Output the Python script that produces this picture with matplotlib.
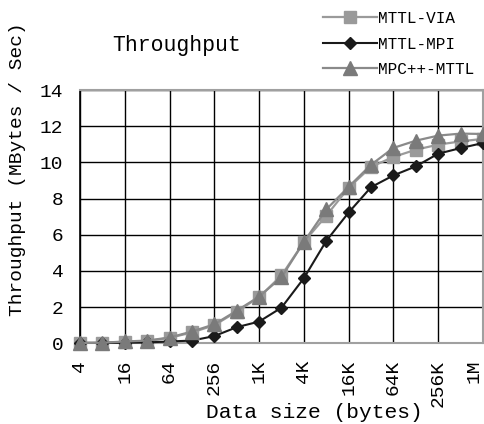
import matplotlib
matplotlib.use("Agg")
import matplotlib.pyplot as plt

plt.rcParams['font.family'] = ['Liberation Mono', 'DejaVu Sans Mono']

sizes = ['4', '8', '16', '32', '64', '128', '256', '512', '1K', '2K', '4K', '8K',
         '16K', '32K', '64K', '128K', '256K', '512K', '1M']
via = [0.02, 0.03, 0.08, 0.12, 0.3, 0.6, 1.0, 1.75, 2.55, 3.75, 5.6, 7.05,
       8.6, 9.75, 10.3, 10.7, 10.98, 11.16, 11.3]
mpi = [0.02, 0.02, 0.03, 0.05, 0.1, 0.15, 0.4, 0.89, 1.2, 1.97, 3.6, 5.66,
       7.23, 8.63, 9.28, 9.78, 10.48, 10.79, 11.07]
mpc = [0.02, 0.03, 0.1, 0.15, 0.32, 0.65, 1.05, 1.8, 2.58, 3.65, 5.6, 7.4,
       8.65, 9.87, 10.8, 11.2, 11.48, 11.59, 11.57]
yticks = [0, 2, 4, 6, 8, 10, 12, 14]

W, H = 485, 424
fig = plt.figure(figsize=(W / 100, H / 100), dpi=100)
ax = fig.add_axes([80 / W, 1 - 343.3 / H, (483 - 80) / W, (343.3 - 90) / H])

x = list(range(len(sizes)))
ax.plot(x, via, color='#9a9a9a', lw=1.6, marker='s', ms=9, mfc='#9a9a9a', mec='#9a9a9a',
        clip_on=False, zorder=3, label='MTTL-VIA')
ax.plot(x, mpi, color='#1a1a1a', lw=1.5, marker='D', ms=6.5, mfc='#1a1a1a', mec='#1a1a1a',
        clip_on=False, zorder=4, label='MTTL-MPI')
ax.plot(x, mpc, color='#8a8a8a', lw=1.6, marker='^', ms=10, mfc='#7a7a7a', mec='#7a7a7a',
        clip_on=False, zorder=5, label='MPC++-MTTL')

ax.set_xlim(0, len(sizes) - 1)
ax.set_ylim(0, 14)
ax.set_yticks(yticks)
ax.set_yticklabels([str(v) for v in yticks], fontsize=14)
ax.set_xticks(x[::2])
ax.set_xticklabels(sizes[::2], rotation=90, fontsize=14, va='top')
ax.get_xticklabels()[-1].set_horizontalalignment('right')
ax.tick_params(axis='y', length=0, pad=12)
ax.tick_params(axis='x', length=0, pad=12)
ax.grid(True, color='black', lw=1.0)
ax.set_axisbelow(True)
for s in ['top', 'right', 'bottom']:
    ax.spines[s].set_color('#a0a0a0')
    ax.spines[s].set_linewidth(1.5)
ax.spines['left'].set_color('black')
ax.spines['left'].set_linewidth(1.2)

fig.text(177 / W, 1 - 46 / H, 'Throughput', fontsize=15.5, ha='center', va='center')
fig.text(314 / W, 1 - 413 / H, 'Data size (bytes)', fontsize=15.3, ha='center', va='center')
fig.text(18 / W, 1 - 169 / H, 'Throughput (MBytes / Sec)', fontsize=14, ha='center',
         va='center', rotation=90)

leg = ax.legend(loc='upper left', bbox_to_anchor=(323 / W, 1 - 11 / H),
                bbox_transform=fig.transFigure, frameon=False, fontsize=11.5,
                handlelength=3.4, handletextpad=0.05, labelspacing=0.66,
                borderpad=0, borderaxespad=0)

fig.savefig('out.png', dpi=100)
